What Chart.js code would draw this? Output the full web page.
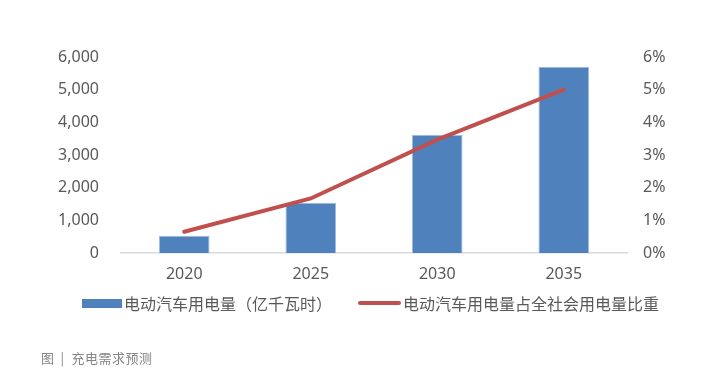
<!DOCTYPE html>
<html>
<head>
<meta charset="utf-8">
<script src="https://cdn.jsdelivr.net/npm/chart.js@4"></script>
<style>
  html, body { margin: 0; padding: 0; background: #ffffff; }
  #wrap { position: relative; width: 706px; height: 376px; overflow: hidden; }
  #c { position: absolute; left: 0; top: 0; }
  .legend { position: absolute; top: 292px; left: 0; height: 22px; font-family: "Noto Sans CJK SC", "Noto Sans", sans-serif; font-size: 16px; color: #595959; line-height: 22px; white-space: nowrap; }
  .sw-bar { position: absolute; left: 82px; top: 7px; width: 40px; height: 9px; background: #4F81BD; }
  .t1 { position: absolute; left: 124px; top: 0; }
  .sw-line { position: absolute; left: 358px; top: 9px; width: 43px; height: 4px; background: #C0504D; border-radius: 2px; }
  .t2 { position: absolute; left: 403px; top: 0; }
  .caption { position: absolute; left: 41px; top: 348px; font-family: "Noto Sans CJK SC", sans-serif; font-size: 13px; color: #858585; line-height: 19px; white-space: nowrap; letter-spacing: 0.5px; }
  .caption .sep { margin: 0 7px 0 6px; }
</style>
</head>
<body>
<div id="wrap">
  <canvas id="c" width="706" height="376"></canvas>
  <div class="legend">
    <span class="sw-bar"></span><span class="t1">电动汽车用电量（亿千瓦时）</span>
    <span class="sw-line"></span><span class="t2">电动汽车用电量占全社会用电量比重</span>
  </div>
  <div class="caption">图<span class="sep">|</span>充电需求预测</div>
</div>
<script>
const categories = ['2020', '2025', '2030', '2035'];
const evPower = [530, 1540, 3610, 5700];          // 亿千瓦时
const evShare = [0.65, 1.67, 3.47, 5.0];          // %
const barLabel = '电动汽车用电量（亿千瓦时）';
const lineLabel = '电动汽车用电量占全社会用电量比重';
const leftTicks = [0, 1000, 2000, 3000, 4000, 5000, 6000];
const rightTicks = [0, 1, 2, 3, 4, 5, 6];

const numFont = { family: '"Noto Sans", "Noto Sans CJK SC", sans-serif', size: 16 };
const textColor = '#595959';

new Chart(document.getElementById('c'), {
  data: {
    labels: categories,
    datasets: [
      {
        type: 'line',
        label: lineLabel,
        data: evShare,
        yAxisID: 'y2',
        borderColor: '#C0504D',
        backgroundColor: '#C0504D',
        borderWidth: 4,
        pointRadius: 0,
        tension: 0,
        borderCapStyle: 'round',
        order: 0
      },
      {
        type: 'bar',
        label: barLabel,
        data: evPower,
        yAxisID: 'y',
        backgroundColor: '#4F81BD',
        borderColor: '#9DB9DD',
        borderWidth: { top: 1, left: 1, right: 1, bottom: 0 },
        categoryPercentage: 1.0,
        barPercentage: 0.4,
        order: 1
      }
    ]
  },
  options: {
    responsive: false,
    animation: false,
    devicePixelRatio: 1,
    layout: { padding: { top: 57, bottom: 0, left: 0, right: 0 } },
    plugins: { legend: { display: false }, tooltip: { enabled: false } },
    scales: {
      x: {
        grid: { display: false, drawTicks: false },
        border: { display: true, color: '#D9D9D9', width: 1.5 },
        ticks: { color: textColor, font: numFont, padding: 12, maxRotation: 0 },
        afterFit: (s) => { s.height = 123; }
      },
      y: {
        position: 'left',
        min: 0, max: 6000,
        afterBuildTicks: (s) => { s.ticks = leftTicks.map(v => ({ value: v })); },
        grid: { display: false, drawTicks: false },
        border: { display: false },
        ticks: {
          color: textColor, font: numFont, padding: 22,
          callback: (v) => v.toLocaleString('en-US')
        },
        afterFit: (s) => { s.width = 121; }
      },
      y2: {
        position: 'right',
        min: 0, max: 6,
        afterBuildTicks: (s) => { s.ticks = rightTicks.map(v => ({ value: v })); },
        grid: { display: false, drawTicks: false },
        border: { display: false },
        ticks: {
          color: textColor, font: numFont, padding: 16,
          callback: (v) => v + '%'
        },
        afterFit: (s) => { s.width = 79; }
      }
    }
  }
});
</script>
</body>
</html>
